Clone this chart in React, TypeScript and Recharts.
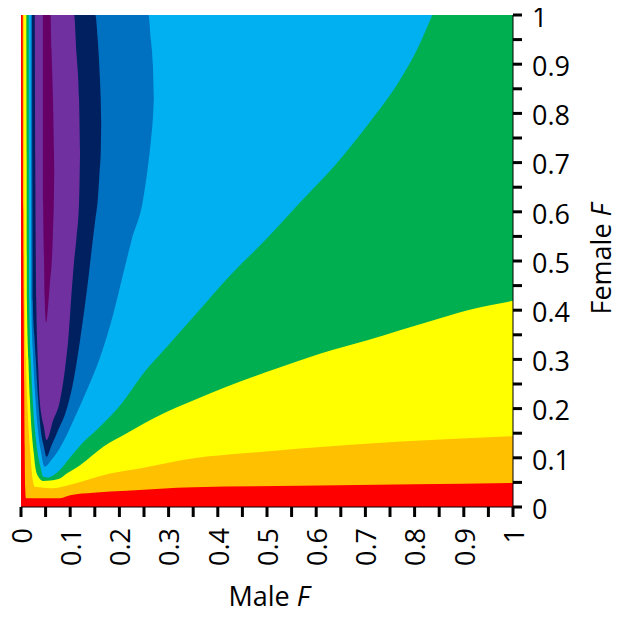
import React from 'react';
import { ComposedChart, Area, XAxis, YAxis } from 'recharts';

// ---- axis ticks ----
const xTicks = [0, 0.05, 0.1, 0.15, 0.2, 0.25, 0.3, 0.35, 0.4, 0.45, 0.5, 0.55, 0.6, 0.65, 0.7, 0.75, 0.8, 0.85, 0.9, 0.95, 1];
const yTicks = [0, 0.05, 0.1, 0.15, 0.2, 0.25, 0.3, 0.35, 0.4, 0.45, 0.5, 0.55, 0.6, 0.65, 0.7, 0.75, 0.8, 0.85, 0.9, 0.95, 1];

// ---- contour bands: each band = region above lower edge (lo) up to upper edge (hi) ----
const redX = [0, 1];
const redLo = [0, 0];
const redHi = [1, 1];

const orangeX = [0.0035, 0.0045, 0.0055, 0.0065, 0.0075, 0.0085, 0.01, 0.08, 0.09, 0.1, 0.147, 0.215, 0.351, 0.568, 0.8, 1.0];
const orangeLo = [1.0, 0.6, 0.4, 0.25, 0.12, 0.04, 0.018, 0.018, 0.021, 0.024, 0.029, 0.033, 0.04, 0.043, 0.046, 0.049];
const orangeHi = [1, 1, 1, 1, 1, 1, 1, 1, 1, 1, 1, 1, 1, 1, 1, 1];

const yellowX = [0.0055, 0.0065, 0.0075, 0.01, 0.013, 0.016, 0.019, 0.021, 0.024, 0.028, 0.038, 0.062, 0.08, 0.1, 0.134, 0.181, 0.249, 0.351, 0.453, 0.568, 0.772, 1.0];
const yellowLo = [1.0, 0.7, 0.42, 0.3, 0.21, 0.15, 0.11, 0.082, 0.055, 0.041, 0.04, 0.038, 0.04, 0.045, 0.055, 0.068, 0.08, 0.099, 0.109, 0.119, 0.133, 0.144];
const yellowHi = [1, 1, 1, 1, 1, 1, 1, 1, 1, 1, 1, 1, 1, 1, 1, 1, 1, 1, 1, 1, 1, 1];

const greenX = [0.0108, 0.0115, 0.012, 0.015, 0.018, 0.022, 0.026, 0.029, 0.035, 0.045, 0.06, 0.079, 0.093, 0.12, 0.168, 0.215, 0.283, 0.351, 0.419, 0.521, 0.609, 0.704, 0.772, 0.84, 0.908, 1.0];
const greenLo = [1.0, 0.7, 0.42, 0.3, 0.22, 0.15, 0.11, 0.082, 0.062, 0.053, 0.054, 0.058, 0.068, 0.085, 0.123, 0.15, 0.187, 0.217, 0.245, 0.282, 0.312, 0.339, 0.36, 0.38, 0.4, 0.419];
const greenHi = [1, 1, 1, 1, 1, 1, 1, 1, 1, 1, 1, 1, 1, 1, 1, 1, 1, 1, 1, 1, 1, 1, 1, 1, 1, 1];

const lightBlueX = [0.0157, 0.016, 0.0165, 0.02, 0.025, 0.029, 0.033, 0.035, 0.04, 0.045, 0.055, 0.068, 0.079, 0.096, 0.107, 0.125, 0.155, 0.205, 0.249, 0.297, 0.351, 0.432, 0.497, 0.568, 0.636, 0.704, 0.772, 0.806, 0.836];
const lightBlueLo = [1.0, 0.7, 0.42, 0.3, 0.2, 0.15, 0.115, 0.102, 0.08, 0.062, 0.06, 0.066, 0.075, 0.096, 0.109, 0.13, 0.158, 0.211, 0.272, 0.326, 0.387, 0.478, 0.543, 0.62, 0.692, 0.776, 0.871, 0.932, 1.0];
const lightBlueHi = [1, 1, 1, 1, 1, 1, 1, 1, 1, 1, 1, 1, 1, 1, 1, 1, 1, 1, 1, 1, 1, 1, 1, 1, 1, 1, 1, 1, 1];

const blueX = [0.0198, 0.0204, 0.021, 0.024, 0.028, 0.035, 0.04, 0.048, 0.062, 0.079, 0.107, 0.134, 0.161, 0.188, 0.208, 0.225, 0.248, 0.259, 0.264, 0.268, 0.27];
const blueLo = [1.0, 0.7, 0.42, 0.32, 0.24, 0.15, 0.116, 0.082, 0.096, 0.12, 0.177, 0.238, 0.305, 0.394, 0.475, 0.543, 0.624, 0.7, 0.745, 0.79, 0.83];
const blueHi = [1, 1, 1, 1, 1, 1, 1, 1, 1, 1, 1, 1, 1, 1, 1, 1, 1, 1, 0.95, 0.9, 0.83];

const navyX = [0.0224, 0.023, 0.024, 0.027, 0.03, 0.035, 0.041, 0.046, 0.052, 0.062, 0.075, 0.09, 0.107, 0.12, 0.134, 0.146, 0.151, 0.156, 0.16, 0.162, 0.163];
const navyLo = [1.0, 0.7, 0.42, 0.35, 0.3, 0.217, 0.15, 0.125, 0.102, 0.125, 0.155, 0.19, 0.258, 0.339, 0.441, 0.543, 0.584, 0.624, 0.686, 0.72, 0.78];
const navyHi = [1, 1, 1, 1, 1, 1, 1, 1, 1, 1, 1, 1, 1, 1, 1, 1, 1, 0.95, 0.88, 0.83, 0.78];

const purpleX = [0.028, 0.029, 0.031, 0.035, 0.038, 0.041, 0.046, 0.052, 0.065, 0.079, 0.09, 0.097, 0.101, 0.108, 0.113, 0.118, 0.12];
const purpleLo = [1.0, 0.7, 0.42, 0.285, 0.217, 0.19, 0.165, 0.136, 0.175, 0.215, 0.285, 0.352, 0.41, 0.5, 0.55, 0.62, 0.72];
const purpleHi = [1, 1, 1, 1, 1, 1, 1, 1, 1, 1, 1, 1, 1, 1, 0.92, 0.83, 0.72];

const darkPurpleX = [0.0445, 0.045, 0.047, 0.048, 0.051, 0.056, 0.06, 0.062, 0.065, 0.067, 0.0675];
const darkPurpleLo = [1.0, 0.62, 0.49, 0.43, 0.375, 0.42, 0.47, 0.49, 0.56, 0.64, 0.68];
const darkPurpleHi = [1, 1, 1, 1, 1, 1, 1, 0.93, 0.83, 0.72, 0.68];

const toData = (xs: number[], lo: number[], hi: number[]) =>
  xs.map((x, i) => ({ x, band: [lo[i], hi[i]] }));

const bands = [
  { key: 'red', color: '#FF0000', data: toData(redX, redLo, redHi) },
  { key: 'orange', color: '#FFC000', data: toData(orangeX, orangeLo, orangeHi) },
  { key: 'yellow', color: '#FFFF00', data: toData(yellowX, yellowLo, yellowHi) },
  { key: 'green', color: '#00B050', data: toData(greenX, greenLo, greenHi) },
  { key: 'lightblue', color: '#00B0F0', data: toData(lightBlueX, lightBlueLo, lightBlueHi) },
  { key: 'blue', color: '#0070C0', data: toData(blueX, blueLo, blueHi) },
  { key: 'navy', color: '#002060', data: toData(navyX, navyLo, navyHi) },
  { key: 'purple', color: '#7030A0', data: toData(purpleX, purpleLo, purpleHi) },
  { key: 'darkpurple', color: '#660066', data: toData(darkPurpleX, darkPurpleLo, darkPurpleHi) },
];

const FONT = "'Open Sans', 'DejaVu Sans', sans-serif";
const FS = 27;

const isMajor = (v: number) => Math.abs(v * 10 - Math.round(v * 10)) < 1e-6;
const fmt = (v: number) => String(Math.round(v * 10) / 10);

const XTick = (props: any) => {
  const { x, y, payload } = props;
  const v = payload.value;
  if (!isMajor(v)) return <g />;
  return (
    <text
      x={x}
      y={y}
      transform={`rotate(-90 ${x} ${y})`}
      textAnchor="end"
      dy="0.4em"
      fontSize={FS}
      fontFamily={FONT}
      fill="#000"
    >
      {fmt(v)}
    </text>
  );
};

const YTick = (props: any) => {
  const { x, y, payload } = props;
  const v = payload.value;
  if (!isMajor(v)) return <g />;
  return (
    <text x={x} y={y} dy="0.44em" textAnchor="start" fontSize={FS} fontFamily={FONT} fill="#000">
      {fmt(v)}
    </text>
  );
};

// the chart box starts at the page's top-left corner (the body margin is cancelled)
const W = 621;
const H = 615;

export default function App() {
  return (
    <div style={{ position: 'relative', width: W, height: H, margin: '-8px 0 0 -8px' }}>
      <ComposedChart width={W} height={H} margin={{ top: 15, right: 0, bottom: 0, left: 21 }}>
        {bands.map((b) => (
          <Area
            key={b.key}
            data={b.data}
            dataKey="band"
            type="monotoneX"
            stroke="none"
            fill={b.color}
            fillOpacity={1}
            dot={false}
            activeDot={false}
            isAnimationActive={false}
          />
        ))}
        <XAxis
          xAxisId="top"
          orientation="top"
          type="number"
          domain={[0, 1]}
          allowDataOverflow
          height={0}
          tick={false}
          tickLine={false}
          axisLine={{ stroke: '#D9D9D9', strokeWidth: 1 }}
        />
        <YAxis
          yAxisId="left"
          orientation="left"
          type="number"
          domain={[0, 1]}
          allowDataOverflow
          width={0}
          tick={false}
          tickLine={false}
          axisLine={{ stroke: '#D9D9D9', strokeWidth: 1 }}
        />
        <XAxis
          dataKey="x"
          type="number"
          domain={[0, 1]}
          allowDataOverflow
          ticks={xTicks}
          interval={0}
          height={108}
          tickSize={10}
          tickMargin={11}
          tick={XTick}
          axisLine={{ stroke: '#000', strokeWidth: 1 }}
          tickLine={{ stroke: '#000', strokeWidth: 3 }}
        />
        <YAxis
          orientation="right"
          type="number"
          domain={[0, 1]}
          allowDataOverflow
          ticks={yTicks}
          interval={0}
          width={108}
          tickSize={9}
          tickMargin={10}
          tick={YTick}
          axisLine={{ stroke: '#000', strokeWidth: 1 }}
          tickLine={{ stroke: '#000', strokeWidth: 3 }}
        />
      </ComposedChart>
      <svg
        width={W}
        height={H}
        style={{ position: 'absolute', left: 0, top: 0, pointerEvents: 'none' }}
      >
        <text x={269} y={606} textAnchor="middle" fontSize={FS} fontFamily={FONT} fill="#000">
          Male <tspan fontStyle="italic">F</tspan>
        </text>
        <text
          transform="translate(611 259) rotate(-90)"
          textAnchor="middle"
          fontSize={FS}
          fontFamily={FONT}
          fill="#000"
        >
          Female <tspan fontStyle="italic">F</tspan>
        </text>
      </svg>
    </div>
  );
}
